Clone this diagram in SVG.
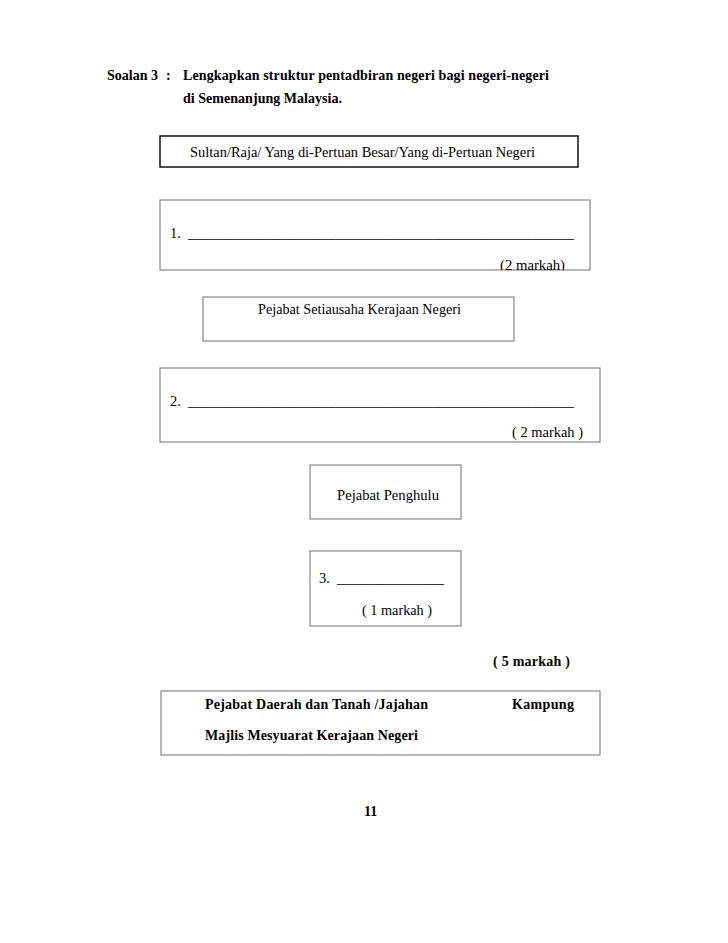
<svg xmlns="http://www.w3.org/2000/svg" width="728" height="943" viewBox="0 0 728 943">
<style>
.r{font-family:"Liberation Serif","Times New Roman",serif;font-size:14.5px;fill:#000}
.b{font-family:"Liberation Serif","Times New Roman",serif;font-size:14px;font-weight:bold;fill:#000}
.box{fill:#fff;stroke:#888;stroke-width:1.2}
.dark{fill:#fff;stroke:#000;stroke-width:1.4}
</style>
<rect width="728" height="943" fill="#fff"/>
<g id="title">
<text class="b" x="107" y="80">Soalan 3</text>
<text class="b" x="166" y="80">:</text>
<text class="b" x="183" y="80" textLength="366" lengthAdjust="spacing">Lengkapkan struktur pentadbiran negeri bagi negeri-negeri</text>
<text class="b" x="183" y="103" textLength="159" lengthAdjust="spacing">di Semenanjung Malaysia.</text>
</g>
<g id="connectors"></g>
<g id="node-sultan">
<rect class="dark" x="160" y="136" width="418" height="31"/>
<text class="r" x="190" y="157" textLength="345" lengthAdjust="spacingAndGlyphs">Sultan/Raja/ Yang di-Pertuan Besar/Yang di-Pertuan Negeri</text>
</g>
<g id="node-1">
<rect class="box" x="160" y="200" width="430" height="70"/>
<text class="r" x="170" y="238">1.</text>
<text class="r" x="188" y="238" textLength="386" lengthAdjust="spacingAndGlyphs">_______________________________________________________</text>
<svg x="160" y="200" width="430" height="70"><text class="r" x="340" y="70" textLength="65" lengthAdjust="spacingAndGlyphs">(2 markah)</text></svg>
</g>
<g id="node-setiausaha">
<rect class="box" x="203" y="297" width="311" height="44"/>
<text class="r" x="258" y="314" textLength="203" lengthAdjust="spacingAndGlyphs">Pejabat Setiausaha Kerajaan Negeri</text>
</g>
<g id="node-2">
<rect class="box" x="160" y="368" width="440" height="74"/>
<text class="r" x="170" y="406">2.</text>
<text class="r" x="188" y="406" textLength="386" lengthAdjust="spacingAndGlyphs">_______________________________________________________</text>
<text class="r" x="512" y="437" textLength="71" lengthAdjust="spacingAndGlyphs">( 2 markah )</text>
</g>
<g id="node-penghulu">
<rect class="box" x="310" y="465" width="151" height="54"/>
<text class="r" x="337" y="500" textLength="102" lengthAdjust="spacingAndGlyphs">Pejabat Penghulu</text>
</g>
<g id="node-3">
<rect class="box" x="310" y="551" width="151" height="75"/>
<text class="r" x="319" y="583">3.</text>
<text class="r" x="337" y="583" textLength="107" lengthAdjust="spacingAndGlyphs">_______________</text>
<text class="r" x="362" y="615" textLength="70" lengthAdjust="spacingAndGlyphs">( 1 markah )</text>
</g>
<g id="total">
<text class="b" x="493" y="666" textLength="77" lengthAdjust="spacing">( 5 markah )</text>
</g>
<g id="node-options">
<rect class="box" x="161" y="691" width="439" height="64"/>
<text class="b" x="205" y="709" textLength="223" lengthAdjust="spacing">Pejabat Daerah dan Tanah /Jajahan</text>
<text class="b" x="512" y="709" textLength="62" lengthAdjust="spacing">Kampung</text>
<text class="b" x="205" y="740" textLength="213" lengthAdjust="spacing">Majlis Mesyuarat Kerajaan Negeri</text>
</g>
<g id="page">
<text class="b" x="364" y="816">11</text>
</g>
</svg>
